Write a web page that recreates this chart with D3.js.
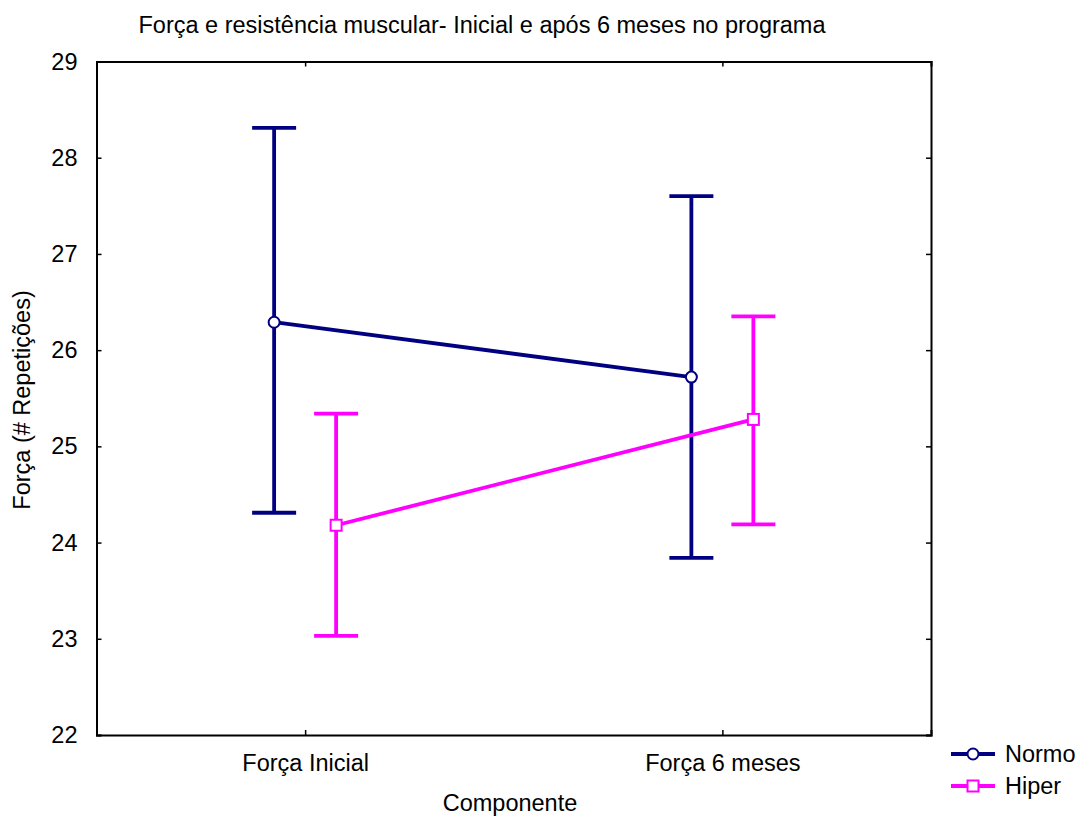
<!DOCTYPE html>
<html>
<head>
<meta charset="utf-8">
<script src="https://cdn.jsdelivr.net/npm/d3@7"></script>
<style>
  body { margin: 0; background: #fff; }
  svg { font-family: "Liberation Sans", Arial, sans-serif; }
</style>
</head>
<body>
<div id="chart"></div>
<script>
// data
const categories = ["Força Inicial", "Força 6 meses"];
const seriesNames = ["Normo", "Hiper"];
const normoMean = [26.29, 25.72];
const normoLow = [24.31, 23.84];
const normoHigh = [28.31, 27.60];
const hiperMean = [24.18, 25.28];
const hiperLow = [23.03, 24.19];
const hiperHigh = [25.34, 26.35];
const yTicks = [22, 23, 24, 25, 26, 27, 28, 29];

const width = 1079, height = 818;
const margin = { top: 61.5, right: 148, left: 96.5, bottom: 83 };
const fs = 23.5;
const lw = 3.8;

const svg = d3.select("#chart").append("svg")
  .attr("width", width).attr("height", height);

const x = d3.scalePoint().domain(categories)
  .range([margin.left, width - margin.right]).padding(0.5);
const y = d3.scaleLinear().domain([22, 29])
  .range([height - margin.bottom, margin.top]);

const offset = d3.scaleOrdinal().domain(seriesNames).range([-31, 31]);
const color = d3.scaleOrdinal().domain(seriesNames).range(["#000080", "#ff00ff"]);

const series = [
  { name: "Normo", mean: normoMean, low: normoLow, high: normoHigh, shape: "circle" },
  { name: "Hiper", mean: hiperMean, low: hiperLow, high: hiperHigh, shape: "square" },
];

// axes (ticks inside the frame)
svg.append("g")
  .attr("transform", `translate(${margin.left},0)`)
  .call(d3.axisLeft(y).tickValues(yTicks).tickFormat(d3.format("d")).tickSize(-5).tickPadding(19));
svg.append("g")
  .attr("transform", `translate(${width - margin.right},0)`)
  .call(d3.axisRight(y).tickValues(yTicks).tickSize(-5).tickFormat(""));
svg.append("g")
  .attr("transform", `translate(0,${height - margin.bottom})`)
  .call(d3.axisBottom(x).tickSize(-5).tickPadding(19));
svg.append("g")
  .attr("transform", `translate(0,${margin.top})`)
  .call(d3.axisTop(x).tickSize(-5).tickFormat(""));

svg.selectAll(".domain").attr("stroke", "#000").attr("stroke-width", 2);
svg.selectAll(".tick line").attr("stroke", "#000").attr("stroke-width", 1.5);
svg.selectAll(".tick text").attr("font-size", fs).attr("fill", "#000")
  .attr("font-family", "Liberation Sans, Arial, sans-serif");

// titles
svg.append("text").attr("x", 482).attr("y", 33).attr("text-anchor", "middle")
  .attr("font-size", 23.5).text("Força e resistência muscular- Inicial e após 6 meses no programa");
svg.append("text").attr("x", 510).attr("y", 811).attr("text-anchor", "middle")
  .attr("font-size", fs).text("Componente");
svg.append("text").attr("transform", `translate(30,400) rotate(-90)`)
  .attr("text-anchor", "middle").attr("font-size", fs).text("Força (# Repetições)");

// series
series.forEach((s) => {
  const g = svg.append("g");
  const c = color(s.name);
  const px = (i) => x(categories[i]) + offset(s.name);
  const pts = categories.map((d, i) => [px(i), y(s.mean[i])]);

  categories.forEach((d, i) => {
    g.append("line").attr("x1", px(i)).attr("x2", px(i))
      .attr("y1", y(s.low[i])).attr("y2", y(s.high[i]))
      .attr("stroke", c).attr("stroke-width", lw);
    [s.low[i], s.high[i]].forEach((v) => {
      g.append("line").attr("x1", px(i) - 22).attr("x2", px(i) + 22)
        .attr("y1", y(v)).attr("y2", y(v))
        .attr("stroke", c).attr("stroke-width", lw);
    });
  });

  g.append("path").attr("d", d3.line()(pts))
    .attr("fill", "none").attr("stroke", c).attr("stroke-width", lw);

  pts.forEach(([cx, cy]) => {
    if (s.shape === "circle") {
      g.append("circle").attr("cx", cx).attr("cy", cy).attr("r", 5.5)
        .attr("fill", "#fff").attr("stroke", c).attr("stroke-width", 2);
    } else {
      g.append("rect").attr("x", cx - 5.5).attr("y", cy - 5.5)
        .attr("width", 11).attr("height", 11)
        .attr("fill", "#fff").attr("stroke", c).attr("stroke-width", 2);
    }
  });
});

// legend
const legend = svg.append("g").attr("transform", "translate(951,754)");
series.forEach((s, i) => {
  const g = legend.append("g").attr("transform", `translate(0,${i * 32})`);
  const c = color(s.name);
  g.append("line").attr("x1", 0).attr("x2", 44).attr("stroke", c).attr("stroke-width", lw);
  if (s.shape === "circle") {
    g.append("circle").attr("cx", 22).attr("r", 5.5)
      .attr("fill", "#fff").attr("stroke", c).attr("stroke-width", 2);
  } else {
    g.append("rect").attr("x", 16.5).attr("y", -5.5).attr("width", 11).attr("height", 11)
      .attr("fill", "#fff").attr("stroke", c).attr("stroke-width", 2);
  }
  g.append("text").attr("x", 54).attr("y", 8).attr("font-size", fs).text(s.name);
});
</script>
</body>
</html>
